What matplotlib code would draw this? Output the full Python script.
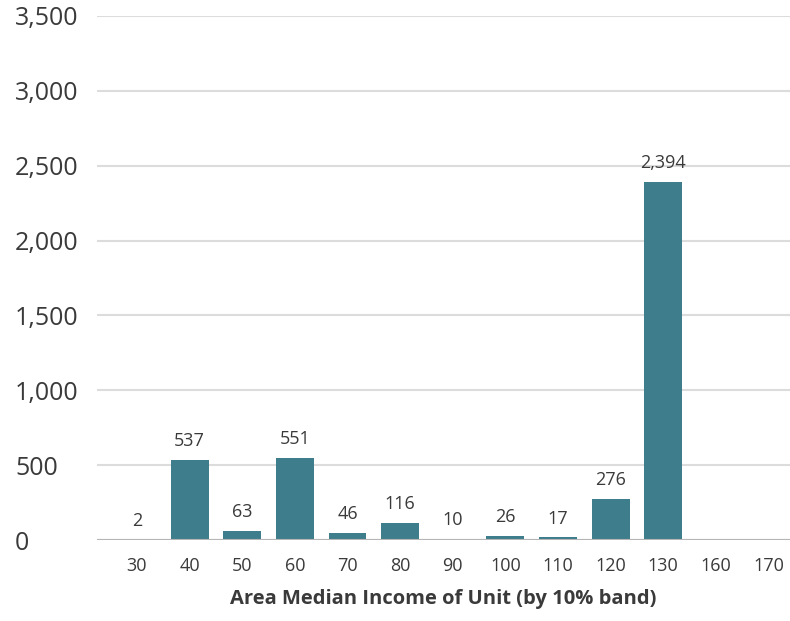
import matplotlib
matplotlib.use("Agg")
import matplotlib.pyplot as plt

# Units by AMI band
bands = ["30", "40", "50", "60", "70", "80", "90", "100", "110", "120", "130", "160", "170"]
units = [2, 537, 63, 551, 46, 116, 10, 26, 17, 276, 2394, 0, 0]
value_labels = ["2", "537", "63", "551", "46", "116", "10", "26", "17", "276", "2,394", "", ""]
y_ticks = [0, 500, 1000, 1500, 2000, 2500, 3000, 3500]
y_tick_labels = ["0", "500", "1,000", "1,500", "2,000", "2,500", "3,000", "3,500"]
x_title = "Area Median Income of Unit (by 10% band)"

plt.rcParams["font.family"] = ["Open Sans", "DejaVu Sans"]
text_color = "#3a3a3a"
bar_color = "#3e7d8b"

fig = plt.figure(figsize=(7.9, 6.21), dpi=100)
ax = fig.add_axes([97 / 790, 81 / 621, 1 - 97 / 790, (540 - 16) / 621])

x = list(range(len(bands)))
ax.bar(x, units, width=0.72, color=bar_color, zorder=3)

for xi, v, lab in zip(x, units, value_labels):
    if lab:
        ax.annotate(lab, (xi, v), xytext=(0, 7), textcoords="offset points",
                    ha="center", va="bottom", fontsize=13, color=text_color)

ax.set_xlim(-0.76, 12.41)
ax.set_ylim(0, 3500)
ax.set_yticks(y_ticks)
ax.set_yticklabels(y_tick_labels, ha="left", fontsize=18, color=text_color)
ax.tick_params(axis="y", length=0, pad=59)
ax.set_xticks(x)
ax.set_xticklabels(bands, fontsize=13, color=text_color)
ax.tick_params(axis="x", length=0, pad=12)

ax.grid(axis="y", color="#dcdcdc", linewidth=1.5, zorder=0)
ax.axhline(0, color="#b5b5b5", linewidth=1.5, zorder=4)
for s in ax.spines.values():
    s.set_visible(False)

ax.set_xlabel(x_title, fontsize=14.5, fontweight="bold", color=text_color, labelpad=10)

fig.savefig("out.png", dpi=100)
